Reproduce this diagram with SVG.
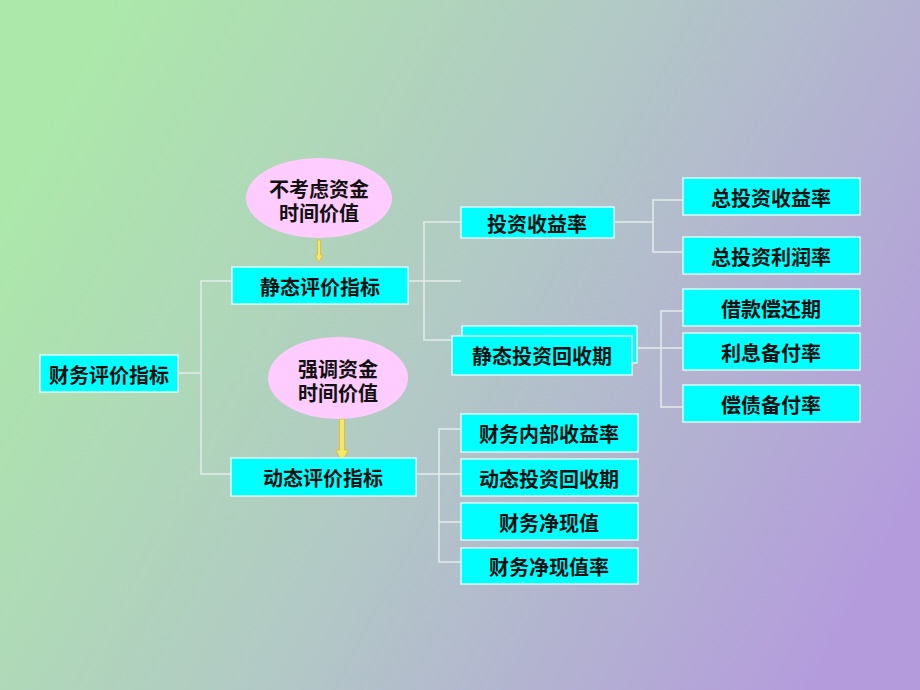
<svg xmlns="http://www.w3.org/2000/svg" width="920" height="690" viewBox="0 0 920 690">
<defs>
<linearGradient id="bg" x1="0" y1="0.3" x2="1" y2="0.7">
<stop offset="0" stop-color="#ace8aa"/>
<stop offset="0.5" stop-color="#b2c8c6"/>
<stop offset="1" stop-color="#b49cdc"/>
</linearGradient>
<style>
.box{fill:#00ffff;stroke:#d8fcfc;stroke-width:1.5}
.ell{fill:#ffccff;stroke:none}
.t{font-family:"Noto Sans CJK SC","Noto Sans CJK JP",sans-serif;font-size:20px;font-weight:bold;fill:#111;text-anchor:middle;dominant-baseline:central}
.ln{fill:none;stroke:#e4ecec;stroke-width:1.5}
.arr{fill:#f4e86a;stroke:#e0c040;stroke-width:1}
</style>
</defs>
<rect width="920" height="690" fill="url(#bg)"/>
<g id="connectors">
<polyline class="ln" points="178,373 201,373"/>
<polyline class="ln" points="232,281 201,281 201,474 231,474"/>
<polyline class="ln" points="408,281 461,281"/>
<polyline class="ln" points="461,222 424,222 424,340 452,340"/>
<polyline class="ln" points="614,222 653,222"/>
<polyline class="ln" points="683,200 653,200 653,252 683,252"/>
<polyline class="ln" points="637,348 683,348"/>
<polyline class="ln" points="683,311 661,311 661,407 683,407"/>
<polyline class="ln" points="416,474 461,474"/>
<polyline class="ln" points="461,429 439,429 439,562 461,562"/>
<polyline class="ln" points="439,522 461,522"/>
<polygon class="arr" points="317.5,240 320.5,240 320.5,255 323,255 319,262 315,255 317.5,255"/>
<polygon class="arr" points="339.5,419 344.5,419 344.5,450 348,450 342,463 336,450 339.5,450"/>
</g>
<g id="root"><rect class="box" x="40" y="355" width="138" height="37"/><text class="t" x="109" y="374">财务评价指标</text></g>
<g id="static"><rect class="box" x="232" y="267" width="176" height="37"/><text class="t" x="320" y="286">静态评价指标</text></g>
<g id="dynamic"><rect class="box" x="231" y="458" width="185" height="38"/><text class="t" x="323" y="477">动态评价指标</text></g>
<g id="note1"><ellipse class="ell" cx="319" cy="198" rx="73" ry="40"/><text class="t" x="319" y="188">不考虑资金<tspan x="319" dy="24">时间价值</tspan></text></g>
<g id="note2"><ellipse class="ell" cx="338" cy="378" rx="70" ry="41"/><text class="t" x="338" y="368">强调资金<tspan x="338" dy="24">时间价值</tspan></text></g>
<g id="roi"><rect class="box" x="461" y="207" width="153" height="31"/><text class="t" x="537" y="223">投资收益率</text></g>
<g id="spp"><rect class="box" x="462" y="326" width="175" height="37"/><rect class="box" x="452" y="336" width="180" height="39"/><text class="t" x="542" y="355">静态投资回收期</text></g>
<g id="troi"><rect class="box" x="683" y="178" width="177" height="37"/><text class="t" x="771" y="197">总投资收益率</text></g>
<g id="tpr"><rect class="box" x="683" y="237" width="177" height="37"/><text class="t" x="771" y="256">总投资利润率</text></g>
<g id="loan"><rect class="box" x="683" y="289" width="177" height="37"/><text class="t" x="771" y="308">借款偿还期</text></g>
<g id="icr"><rect class="box" x="683" y="333" width="177" height="37"/><text class="t" x="771" y="352">利息备付率</text></g>
<g id="dscr"><rect class="box" x="683" y="385" width="177" height="37"/><text class="t" x="771" y="404">偿债备付率</text></g>
<g id="firr"><rect class="box" x="461" y="414" width="177" height="38"/><text class="t" x="549" y="433">财务内部收益率</text></g>
<g id="dpp"><rect class="box" x="461" y="459" width="177" height="37"/><text class="t" x="549" y="478">动态投资回收期</text></g>
<g id="npv"><rect class="box" x="461" y="503" width="177" height="37"/><text class="t" x="549" y="522">财务净现值</text></g>
<g id="npvr"><rect class="box" x="461" y="548" width="177" height="36"/><text class="t" x="549" y="566">财务净现值率</text></g>
</svg>
